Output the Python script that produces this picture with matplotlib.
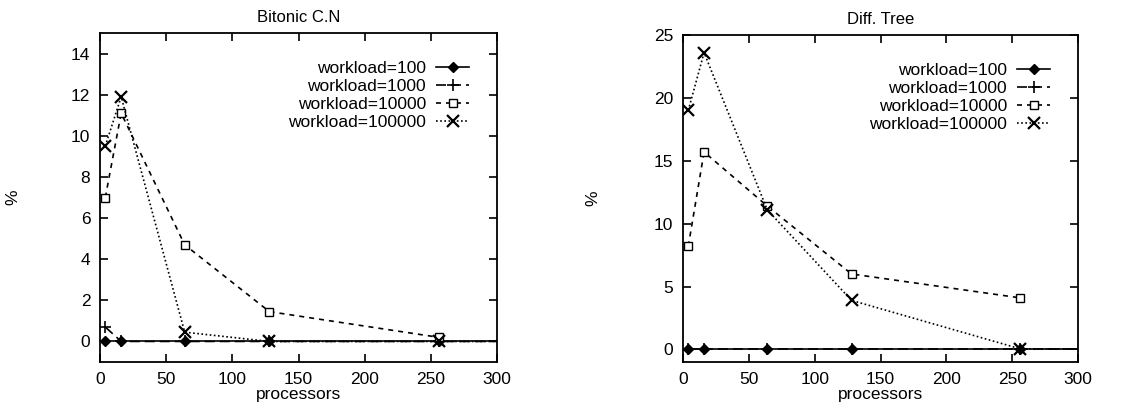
import matplotlib
matplotlib.use("Agg")
import matplotlib.pyplot as plt

plt.rcParams['font.family'] = ['Liberation Sans', 'DejaVu Sans']

processors = [4, 16, 64, 128, 256, 512]
labels = ['workload=100', 'workload=1000', 'workload=10000', 'workload=100000']

# Bitonic counting network
bitonic_100 = [0, 0, 0, 0, 0, 0]
bitonic_1000 = [0.7, 0, 0, 0, 0, 0]
bitonic_10000 = [7.0, 11.1, 4.7, 1.45, 0.2]
bitonic_100000 = [9.5, 11.9, 0.45, 0, 0, 0]

# Diffracting tree
tree_100 = [0, 0, 0, 0, 0, 0]
tree_1000 = [0, 0, 0, 0, 0, 0]
tree_10000 = [8.2, 15.7, 11.4, 6.0, 4.1]
tree_100000 = [19.0, 23.6, 11.1, 3.9, 0.05, 0]

styles = [
    dict(linestyle='-', marker='D', markersize=5, markerfacecolor='black'),
    dict(linestyle=(0, (6, 3)), marker='+', markersize=9, markeredgewidth=1.2),
    dict(linestyle=(0, (3, 3)), marker='s', markersize=6, markerfacecolor='white', markeredgewidth=1.0),
    dict(linestyle=(0, (1, 1.5)), marker='x', markersize=8, markeredgewidth=1.6),
]


def draw(ax, series, title, ylim, yticks, ylab_x):
    for vals, lab, st in zip(series, labels, styles):
        ax.plot(processors[:len(vals)], vals, color='black', linewidth=1.2,
                label=lab, **st)
    ax.set_xlim(0, 300)
    ax.set_ylim(*ylim)
    ax.set_xticks([0, 50, 100, 150, 200, 250, 300])
    ax.set_yticks(yticks)
    ax.tick_params(direction='in', top=True, right=True, length=6, width=1.2,
                   labelsize=12.5, pad=7)
    for s in ax.spines.values():
        s.set_linewidth(1.3)
    ax.set_title(title, fontsize=12, pad=8)
    ax.set_xlabel('processors', fontsize=12.5, labelpad=0)
    ax.set_ylabel('%', fontsize=12.5)
    ax.yaxis.set_label_coords(ylab_x, 0.5)
    ax.legend(loc='upper right', frameon=False, markerfirst=False, fontsize=12.5,
              handlelength=1.9, handletextpad=0.6, labelspacing=0.17,
              borderaxespad=1.2)


fig = plt.figure(figsize=(11.44, 4.12), dpi=100)
ax1 = fig.add_axes([100 / 1144, 50 / 412, 397 / 1144, 329 / 412])
ax2 = fig.add_axes([683 / 1144, 50 / 412, 395 / 1144, 327 / 412])

draw(ax1, [bitonic_100, bitonic_1000, bitonic_10000, bitonic_100000],
     'Bitonic C.N', (-1, 15), range(0, 15, 2), -0.2)
draw(ax2, [tree_100, tree_1000, tree_10000, tree_100000],
     'Diff. Tree', (-1, 25), range(0, 26, 5), -0.21)

fig.savefig('out.png', dpi=100)
